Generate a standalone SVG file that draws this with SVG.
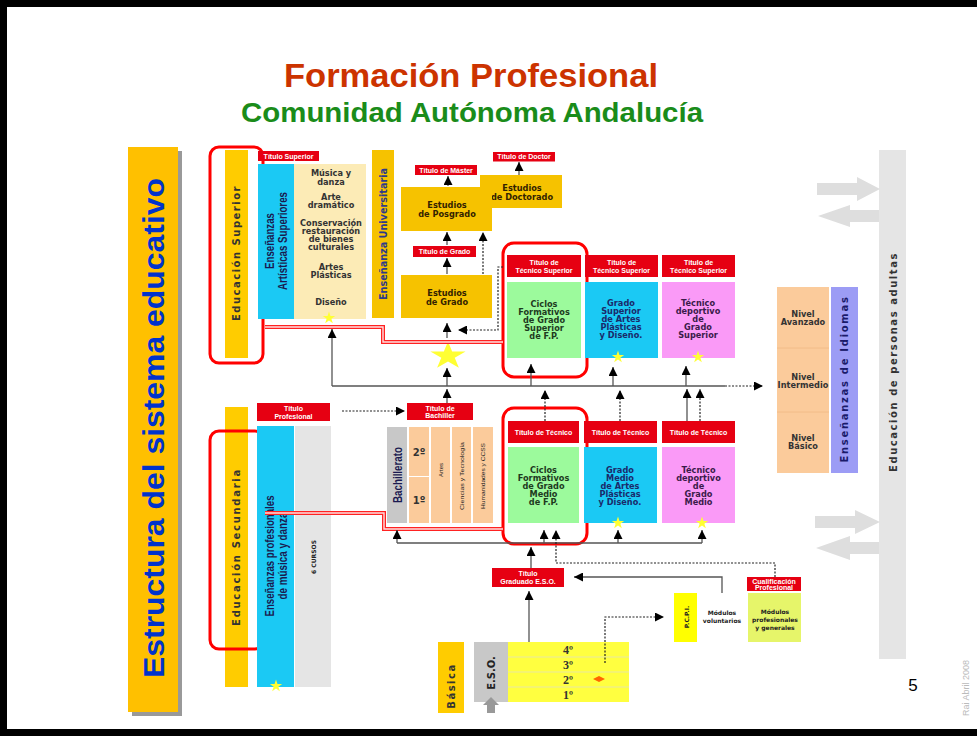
<svg xmlns="http://www.w3.org/2000/svg" width="977" height="736" viewBox="0 0 977 736">
<defs>
<style>
.lbl{font-family:"Liberation Sans",Arial,sans-serif;font-weight:bold;font-size:7px;fill:#fff;text-anchor:middle;dominant-baseline:central}
.bx{font-family:"DejaVu Sans",Verdana,sans-serif;font-weight:bold;font-size:8.2px;text-anchor:middle;dominant-baseline:central}
.sm{font-family:"DejaVu Sans",Verdana,sans-serif;font-weight:bold;font-size:6px;text-anchor:middle;dominant-baseline:central;fill:#222}
.vt{font-family:"DejaVu Sans",Verdana,sans-serif;font-weight:bold;font-size:10px;text-anchor:middle;dominant-baseline:central}
.nt{font-family:"Liberation Sans",Arial,sans-serif;font-weight:bold;font-size:12px;text-anchor:middle;dominant-baseline:central;fill:#1a1a50}
.red{fill:#E60012}
.ln{fill:none;stroke:#555;stroke-width:1.3;marker-end:url(#ah)}
.dta{fill:none;stroke:#222;stroke-width:1.2;stroke-dasharray:2 1.5;marker-end:url(#ah)}
.rr{fill:none;stroke:#FF0000;stroke-width:3}
.dbl{fill:none;stroke:#F22;stroke-width:4}
.dbi{fill:none;stroke:#FFE0E0;stroke-width:1.4}
.fat{fill:#DEDEDE}
.star{fill:#FFFF33}
</style>
<marker id="ah" viewBox="0 0 10 10" refX="10" refY="5" markerWidth="9" markerHeight="9" markerUnits="userSpaceOnUse" orient="auto"><path d="M0,0 L10,5 L0,10 z" fill="#000"/></marker>
<path id="st" d="M0,-10 L2.245,-3.09 L9.51,-3.09 L3.63,1.18 L5.88,8.09 L0,3.82 L-5.88,8.09 L-3.63,1.18 L-9.51,-3.09 L-2.245,-3.09 Z"/>
</defs>
<rect x="0" y="0" width="977" height="736" fill="#000"/>
<rect x="7" y="7" width="970" height="722" fill="#fff"/>

<g id="titles">
<text x="471" y="87" text-anchor="middle" font-family="Liberation Sans, Arial, sans-serif" font-weight="bold" font-size="33" fill="#CC3300" textLength="374" lengthAdjust="spacingAndGlyphs">Formación Profesional</text>
<text x="472" y="122" text-anchor="middle" font-family="Liberation Sans, Arial, sans-serif" font-weight="bold" font-size="28" fill="#1A8C1A" textLength="462" lengthAdjust="spacingAndGlyphs">Comunidad Autónoma Andalucía</text>
</g>

<g id="estructura">
<rect x="132" y="151" width="50" height="565" fill="#999"/>
<rect x="128" y="147" width="50" height="565" fill="#FFC000"/>
<text transform="translate(153,428) rotate(-90)" text-anchor="middle" dominant-baseline="central" font-family="Liberation Sans, Arial, sans-serif" font-weight="bold" font-size="30" fill="#0033CC" textLength="500" lengthAdjust="spacingAndGlyphs">Estructura del sistema educativo</text>
</g>

<!-- Superior -->
<g id="edu-superior">
<rect x="225" y="150" width="23" height="208" fill="#FFCC00"/>
<text class="vt" transform="translate(236.5,253) rotate(-90)" fill="#333" letter-spacing="1.5">Educación Superior</text>
<rect class="rr" x="210" y="147" width="53" height="216" rx="9"/>
</g>
<g id="titulo-superior">
<rect class="red" x="258" y="151" width="61" height="10"/>
<text class="lbl" x="288.5" y="156">Título Superior</text>
</g>
<g id="artisticas-superiores">
<rect x="258" y="164" width="36" height="155" fill="#1BC9F4"/>
<text class="nt" transform="translate(270,241) rotate(-90)" textLength="56" lengthAdjust="spacingAndGlyphs">Enseñanzas</text>
<text class="nt" transform="translate(283,241) rotate(-90)" textLength="98" lengthAdjust="spacingAndGlyphs">Artísticas Superiores</text>
</g>
<g id="artisticas-lista">
<rect x="294" y="164" width="72" height="155" fill="#FCEBB6"/>
<g class="bx" fill="#333">
<text x="331" y="173">Música y</text><text x="331" y="182">danza</text>
<text x="331" y="197">Arte</text><text x="331" y="205">dramático</text>
<text x="331" y="223">Conservación</text><text x="331" y="231">restauración</text><text x="331" y="239">de bienes</text><text x="331" y="247">culturales</text>
<text x="331" y="267">Artes</text><text x="331" y="275">Plásticas</text>
<text x="331" y="302">Diseño</text>
</g>
<use href="#st" class="star" transform="translate(329,318) scale(0.65)"/>
</g>
<g id="universitaria">
<rect x="372" y="150" width="22" height="168" fill="#F6C200"/>
<text class="vt" transform="translate(383,234) rotate(-90)" fill="#2E3A8A" font-family="Liberation Sans, Arial, sans-serif" font-size="11" textLength="132" lengthAdjust="spacingAndGlyphs">Enseñanza Universitaria</text>
</g>
<g id="doctorado">
<rect x="480" y="175" width="82" height="33" fill="#F6C200"/>
<text class="bx" x="522" y="188" fill="#332200" font-size="9">Estudios</text>
<text class="bx" x="522" y="197" fill="#332200" font-size="9">de Doctorado</text>
</g>
<g id="posgrado">
<rect x="401" y="187" width="91" height="44" fill="#F6C200"/>
<text class="bx" x="447" y="205" fill="#332200" font-size="9">Estudios</text>
<text class="bx" x="447" y="214" fill="#332200" font-size="9">de Posgrado</text>
</g>
<g id="titulo-master">
<rect class="red" x="415" y="165" width="62" height="10"/>
<text class="lbl" x="446" y="170">Título de Máster</text>
</g>
<g id="titulo-doctor">
<rect class="red" x="493" y="152" width="62" height="9.5"/>
<text class="lbl" x="524" y="156.8">Título de Doctor</text>
</g>
<g id="titulo-grado">
<rect class="red" x="413" y="246" width="63" height="11"/>
<text class="lbl" x="444.5" y="251.5">Título de Grado</text>
</g>
<g id="grado">
<rect x="401" y="275" width="91" height="43" fill="#F6C200"/>
<text class="bx" x="447" y="293" fill="#332200" font-size="9">Estudios</text>
<text class="bx" x="447" y="302" fill="#332200" font-size="9">de Grado</text>
</g>

<!-- Técnico superior row -->
<g id="ciclos-superior">
<rect class="red" x="507" y="255" width="74" height="22"/>
<text class="lbl" x="544" y="262">Título de</text>
<text class="lbl" x="544" y="270">Técnico Superior</text>
<rect x="507" y="282" width="74" height="76" fill="#9CFA9C"/>
<g class="bx" fill="#1E3A1E"><text x="544" y="304">Ciclos</text><text x="544" y="312">Formativos</text><text x="544" y="320">de Grado</text><text x="544" y="328">Superior</text><text x="544" y="336">de F.P.</text></g>
<rect class="rr" x="503" y="243" width="84" height="134" rx="11"/>
</g>
<g id="artes-superior">
<rect class="red" x="585" y="255" width="73" height="22"/>
<text class="lbl" x="621.5" y="262">Título de</text>
<text class="lbl" x="621.5" y="270">Técnico Superior</text>
<rect x="585" y="282" width="73" height="76" fill="#1BC9F4"/>
<g class="bx" fill="#1A2A6A"><text x="621" y="303">Grado</text><text x="621" y="311">Superior</text><text x="621" y="319">de Artes</text><text x="621" y="327">Plásticas</text><text x="621" y="335">y Diseño.</text></g>
<use href="#st" class="star" transform="translate(618,357) scale(0.65)"/>
</g>
<g id="deportivo-superior">
<rect class="red" x="662" y="255" width="73" height="22"/>
<text class="lbl" x="698.5" y="262">Título de</text>
<text class="lbl" x="698.5" y="270">Técnico Superior</text>
<rect x="662" y="282" width="73" height="76" fill="#FA9AF7"/>
<g class="bx" fill="#3A1A4A"><text x="698" y="303">Técnico</text><text x="698" y="311">deportivo</text><text x="698" y="319">de</text><text x="698" y="327">Grado</text><text x="698" y="335">Superior</text></g>
<use href="#st" class="star" transform="translate(698,357) scale(0.65)"/>
</g>

<g id="gran-estrella">
<use href="#st" class="star" transform="translate(448,356) scale(1.85,1.45)"/>
</g>

<!-- Secundaria -->
<g id="edu-secundaria">
<rect x="225" y="407" width="23" height="280" fill="#FFCC00"/>
<text class="vt" transform="translate(236.5,547) rotate(-90)" fill="#333" letter-spacing="1.7">Educación Secundaria</text>
<rect class="rr" x="210" y="431" width="54" height="218" rx="9"/>
</g>
<g id="titulo-profesional">
<rect class="red" x="257" y="403" width="73" height="18"/>
<text class="lbl" x="293.5" y="408.5">Título</text>
<text class="lbl" x="293.5" y="416">Profesional</text>
</g>
<g id="musica-danza">
<rect x="257" y="426" width="37" height="261" fill="#1BC9F4"/>
<text class="nt" transform="translate(270,556) rotate(-90)" textLength="121" lengthAdjust="spacingAndGlyphs">Enseñanzas profesionales</text>
<text class="nt" transform="translate(283,556) rotate(-90)" textLength="87" lengthAdjust="spacingAndGlyphs">de música y danza</text>
<use href="#st" class="star" transform="translate(276,686) scale(0.65)"/>
</g>
<g id="seis-cursos">
<rect x="295" y="426" width="36" height="261" fill="#E5E5E5"/>
<text class="sm" transform="translate(313,557) rotate(-90)" font-family="Liberation Sans, Arial, sans-serif" font-weight="normal" font-size="6">6 CURSOS</text>
</g>
<g id="titulo-bachiller">
<rect class="red" x="407" y="403" width="66" height="17"/>
<text class="lbl" x="440" y="408">Título de</text>
<text class="lbl" x="440" y="415.5">Bachiller</text>
</g>
<g id="bachillerato">
<rect x="387" y="427" width="20" height="96" fill="#C8C8C8"/>
<text class="nt" transform="translate(397.5,475) rotate(-90)" fill="#222" textLength="56" lengthAdjust="spacingAndGlyphs">Bachillerato</text>
<rect x="409" y="427" width="20" height="49" fill="#FBCB9B"/>
<rect x="409" y="477" width="20" height="46" fill="#FBCB9B"/>
<text x="419" y="452" text-anchor="middle" dominant-baseline="central" font-family="DejaVu Sans, Verdana, sans-serif" font-weight="bold" font-size="10" fill="#333">2º</text>
<text x="419" y="500" text-anchor="middle" dominant-baseline="central" font-family="DejaVu Sans, Verdana, sans-serif" font-weight="bold" font-size="10" fill="#333">1º</text>
<rect x="431" y="427" width="19" height="96" fill="#FBCB9B"/>
<rect x="452" y="427" width="19" height="96" fill="#FBCB9B"/>
<rect x="473" y="427" width="20" height="96" fill="#FBCB9B"/>
<g font-family="Liberation Sans, Arial, sans-serif" font-size="6" fill="#222" text-anchor="middle" dominant-baseline="central">
<text transform="translate(440.5,470) rotate(-90)">Artes</text>
<text transform="translate(461.5,476) rotate(-90)" textLength="68" lengthAdjust="spacingAndGlyphs">Ciencias y Tecnología</text>
<text transform="translate(483,476) rotate(-90)" textLength="66" lengthAdjust="spacingAndGlyphs">Humanidades y CCSS</text>
</g>
</g>

<!-- Técnico medio row -->
<g id="ciclos-medio">
<rect class="red" x="508" y="421" width="71" height="22"/>
<text class="lbl" x="543.5" y="432">Título de Técnico</text>
<rect x="508" y="447" width="71" height="76" fill="#9CFA9C"/>
<g class="bx" fill="#1E3A1E"><text x="543.5" y="470">Ciclos</text><text x="543.5" y="478">Formativos</text><text x="543.5" y="486">de Grado</text><text x="543.5" y="494">Medio</text><text x="543.5" y="502">de F.P.</text></g>
<rect class="rr" x="503" y="408" width="84" height="136" rx="11"/>
</g>
<g id="artes-medio">
<rect class="red" x="584" y="421" width="73" height="22"/>
<text class="lbl" x="620.5" y="432">Título de Técnico</text>
<rect x="584" y="447" width="73" height="76" fill="#1BC9F4"/>
<g class="bx" fill="#1A2A6A"><text x="620" y="470">Grado</text><text x="620" y="478">Medio</text><text x="620" y="486">de Artes</text><text x="620" y="494">Plásticas</text><text x="620" y="502">y Diseño.</text></g>
<use href="#st" class="star" transform="translate(618,523) scale(0.65)"/>
</g>
<g id="deportivo-medio">
<rect class="red" x="662" y="421" width="73" height="22"/>
<text class="lbl" x="698.5" y="432">Título de Técnico</text>
<rect x="662" y="447" width="73" height="76" fill="#FA9AF7"/>
<g class="bx" fill="#3A1A4A"><text x="698.5" y="470">Técnico</text><text x="698.5" y="478">deportivo</text><text x="698.5" y="486">de</text><text x="698.5" y="494">Grado</text><text x="698.5" y="502">Medio</text></g>
<use href="#st" class="star" transform="translate(702,523) scale(0.65)"/>
</g>

<!-- Idiomas / adultos -->
<g id="idiomas-niveles">
<rect x="777" y="287" width="52" height="186" fill="#FBCB9B"/>
<line x1="777" y1="348" x2="829" y2="348" stroke="#F2BC88" stroke-width="1"/>
<line x1="777" y1="412" x2="829" y2="412" stroke="#F2BC88" stroke-width="1"/>
<g class="bx" font-size="7" fill="#333">
<text x="803" y="314">Nivel</text><text x="803" y="322">Avanzado</text>
<text x="803" y="377">Nivel</text><text x="803" y="385">Intermedio</text>
<text x="803" y="438">Nivel</text><text x="803" y="446">Básico</text>
</g>
</g>
<g id="idiomas">
<rect x="831" y="287" width="27" height="186" fill="#9C9CF5"/>
<text class="vt" transform="translate(844.5,379) rotate(-90)" fill="#1A1A6A" letter-spacing="1.7">Enseñanzas de Idiomas</text>
</g>
<g id="adultos">
<rect x="879" y="150" width="27" height="509" fill="#E5E5E5"/>
<text class="vt" transform="translate(893,362) rotate(-90)" fill="#333" font-size="9.5" letter-spacing="1.55">Educación de personas adultas</text>
<polygon class="fat" points="817,183 857,183 857,177 880,189 857,201 857,195 817,195"/>
<polygon class="fat" points="879,210 850,210 850,205 818,216 850,227 850,222 879,222"/>
<polygon class="fat" points="815,516 855,516 855,510 880,522 855,534 855,528 815,528"/>
<polygon class="fat" points="879,542 850,542 850,536 816,548 850,560 850,554 879,554"/>
</g>

<!-- Básica / ESO -->
<g id="basica">
<rect x="438" y="642" width="26" height="71" fill="#FFCC00"/>
<text class="vt" transform="translate(451,686) rotate(-90)" fill="#333" letter-spacing="1.5">Básica</text>
</g>
<g id="eso">
<rect x="474" y="642" width="34" height="60" fill="#C8C8C8"/>
<text class="vt" transform="translate(491,673) rotate(-90)" fill="#222" font-size="10">E.S.O.</text>
<polygon points="491,697 499,705 495,705 495,713 487,713 487,705 483,705" fill="#999"/>
<rect x="508" y="642" width="121" height="60" fill="#FFFF40"/>
<g stroke="#E8E8A0" stroke-width="1"><line x1="508" y1="657" x2="629" y2="657"/><line x1="508" y1="672" x2="629" y2="672"/><line x1="508" y1="687" x2="629" y2="687"/></g>
<g font-family="Liberation Serif, Times New Roman, serif" font-weight="bold" font-size="12" fill="#333" text-anchor="middle" dominant-baseline="central">
<text x="568" y="649.5">4º</text><text x="568" y="664.5">3º</text><text x="568" y="679.5">2º</text><text x="568" y="694.5">1º</text>
</g>
<polygon points="593,679 599,676 605,679 599,682" fill="#FF6600"/>
</g>
<g id="titulo-eso">
<rect class="red" x="492" y="568" width="72" height="19"/>
<text class="lbl" x="528" y="573.5">Título</text>
<text class="lbl" x="528" y="581.5">Graduado E.S.O.</text>
</g>
<g id="pcpi">
<rect x="674" y="593" width="23" height="49" fill="#FFFF00"/>
<text class="sm" transform="translate(686,617) rotate(-90)">P.C.P.I.</text>
<rect x="697" y="593" width="51" height="49" fill="#fff"/>
<text class="sm" x="722" y="612">Módulos</text><text class="sm" x="722" y="620">voluntarios</text>
<rect x="748" y="593" width="53" height="49" fill="#E6F56A"/>
<text class="sm" x="775" y="611">Módulos</text><text class="sm" x="775" y="619">profesionales</text><text class="sm" x="775" y="627">y generales</text>
</g>
<g id="cualificacion">
<rect class="red" x="747" y="577" width="54" height="14"/>
<text class="lbl" x="774" y="581" font-size="5.5">Cualificación</text>
<text class="lbl" x="774" y="587" font-size="5.5">Profesional</text>
</g>

<g id="connectors">
<path class="dbl" d="M265,327 H383 V342 H503"/>
<path class="dbi" d="M265,327 H383 V342 H503"/>
<path class="dbl" d="M265,513 H384 V529 H503"/>
<path class="dbi" d="M265,513 H384 V529 H503"/>
<path d="M332,386 H725" fill="none" stroke="#555" stroke-width="1.3"/>
<path class="dta" d="M725,386 H763"/>
<path class="ln" d="M332,386 V329"/>
<path class="ln" d="M447,403 V389"/>
<path class="ln" d="M447,386 V368"/>
<path class="ln" d="M447,338 V323"/>
<path class="ln" d="M447,274 V258"/>
<path class="ln" d="M447,245 V232"/>
<path class="ln" d="M448,186 V176"/>
<path class="ln" d="M519,175 V162"/>
<path class="dta" d="M483,274 V232"/>
<path class="dta" d="M503,267 H498 V330 H458"/>
<path class="ln" d="M531,386 V364"/>
<path class="ln" d="M613,386 V367"/>
<path class="ln" d="M686,386 V366"/>
<path class="dta" d="M545,421 V390"/>
<path class="dta" d="M620,421 V390"/>
<path class="ln" d="M687,421 V389"/>
<path class="dta" d="M700,421 V389"/>
<path class="dta" d="M342,411 H405"/>
<path d="M397,543 H702" fill="none" stroke="#555" stroke-width="1.3"/>
<path class="ln" d="M397,543 V530"/>
<path class="ln" d="M544,543 V530" stroke="#000" stroke-width="2"/>
<path class="ln" d="M618,543 V530"/>
<path class="ln" d="M702,543 V530"/>
<path class="ln" d="M531,568 V547" stroke="#000"/>
<path class="dta" d="M775,577 V563 H556 V530"/>
<path class="ln" d="M722,593 V577 H574"/>
<path class="ln" d="M529,642 V591" stroke="#000"/>
<path class="dta" d="M605,663 V617 H664"/>
</g>

<g id="footer">
<text x="913" y="691" text-anchor="middle" font-family="Liberation Sans, Arial, sans-serif" font-size="17" fill="#000">5</text>
<text transform="translate(966,688) rotate(-90)" text-anchor="middle" dominant-baseline="central" font-family="Liberation Sans, Arial, sans-serif" font-size="9" fill="#BBBBBB">Rai Abril 2008</text>
</g>
</svg>
